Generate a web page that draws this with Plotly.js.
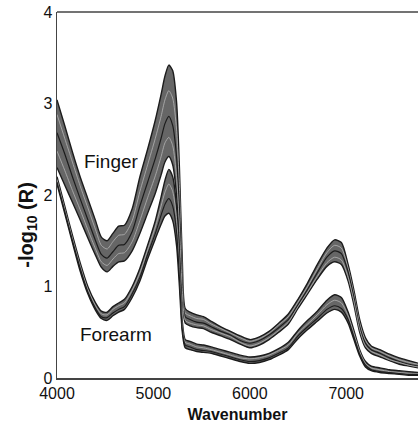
<!DOCTYPE html>
<html>
<head>
<meta charset="utf-8">
<script src="https://cdn.plot.ly/plotly-3.0.1.min.js"></script>
<style>html,body{margin:0;padding:0;background:#fff;overflow:hidden;}#chart{width:418px;height:424px;}</style>
</head>
<body>
<div id="chart"></div>
<script>
// Wavenumber grid (cm-1)
var wavenumber = [4000,4080,4160,4240,4320,4400,4460,4520,4580,4640,4700,4780,4860,4940,5020,5080,5120,5160,5200,5240,5270,5300,5330,5380,5450,5520,5600,5700,5800,5900,6000,6100,6200,6300,6400,6500,6600,6700,6800,6880,6950,7020,7080,7140,7200,7260,7350,7450,7550,7650,7750];

// Finger spectra (-log10 R), top of band to bottom of band
var finger1 = [3.04,2.76,2.47,2.20,1.96,1.72,1.54,1.50,1.58,1.66,1.67,1.85,2.20,2.50,2.82,3.10,3.30,3.42,3.36,3.02,2.30,1.28,0.76,0.72,0.69,0.67,0.62,0.56,0.51,0.46,0.42,0.45,0.51,0.60,0.70,0.86,1.04,1.24,1.42,1.51,1.48,1.24,0.96,0.64,0.44,0.35,0.31,0.26,0.22,0.19,0.16];
var finger2 = [2.88,2.62,2.36,2.10,1.86,1.62,1.45,1.41,1.49,1.56,1.57,1.72,2.04,2.33,2.62,2.86,3.04,3.14,3.06,2.72,2.08,1.15,0.71,0.68,0.65,0.64,0.59,0.54,0.49,0.44,0.40,0.43,0.49,0.58,0.67,0.83,1.00,1.19,1.37,1.45,1.42,1.20,0.92,0.60,0.41,0.33,0.29,0.24,0.20,0.17,0.15];
var finger3 = [2.68,2.45,2.20,1.96,1.73,1.50,1.35,1.31,1.38,1.45,1.46,1.60,1.88,2.14,2.40,2.62,2.78,2.86,2.76,2.42,1.84,1.04,0.67,0.64,0.61,0.60,0.56,0.51,0.47,0.41,0.38,0.41,0.47,0.55,0.64,0.80,0.97,1.15,1.32,1.39,1.36,1.16,0.88,0.56,0.38,0.31,0.27,0.22,0.18,0.15,0.13];
var finger4 = [2.48,2.27,2.05,1.84,1.62,1.41,1.27,1.23,1.30,1.36,1.37,1.49,1.72,1.97,2.21,2.42,2.57,2.63,2.54,2.20,1.66,0.96,0.63,0.60,0.58,0.57,0.53,0.49,0.45,0.39,0.35,0.38,0.44,0.52,0.61,0.78,0.94,1.11,1.26,1.32,1.29,1.10,0.84,0.53,0.35,0.29,0.25,0.20,0.17,0.14,0.12];
var finger5 = [2.30,2.11,1.92,1.73,1.53,1.34,1.21,1.16,1.22,1.27,1.28,1.39,1.58,1.80,2.02,2.22,2.36,2.42,2.33,2.00,1.50,0.88,0.60,0.57,0.55,0.54,0.50,0.46,0.42,0.37,0.33,0.36,0.42,0.50,0.59,0.76,0.92,1.08,1.22,1.27,1.24,1.06,0.80,0.50,0.33,0.27,0.23,0.19,0.15,0.13,0.11];

// Forearm spectra (-log10 R), top of band to bottom of band
var forearm1 = [2.20,1.88,1.56,1.26,1.00,0.82,0.73,0.72,0.78,0.82,0.86,1.00,1.20,1.45,1.72,1.98,2.16,2.28,2.20,1.88,1.30,0.62,0.42,0.40,0.37,0.36,0.34,0.31,0.28,0.25,0.23,0.24,0.27,0.32,0.39,0.52,0.63,0.73,0.85,0.91,0.88,0.72,0.52,0.31,0.18,0.13,0.11,0.09,0.08,0.07,0.06];
var forearm2 = [2.17,1.85,1.53,1.23,0.97,0.79,0.70,0.69,0.75,0.79,0.82,0.96,1.15,1.40,1.65,1.88,2.03,2.12,2.04,1.74,1.20,0.57,0.39,0.37,0.34,0.33,0.31,0.28,0.25,0.22,0.21,0.22,0.25,0.30,0.36,0.49,0.59,0.69,0.80,0.85,0.82,0.68,0.49,0.29,0.16,0.11,0.09,0.07,0.06,0.05,0.05];
var forearm3 = [2.14,1.82,1.50,1.20,0.94,0.76,0.67,0.66,0.71,0.75,0.78,0.92,1.10,1.35,1.58,1.78,1.90,1.96,1.88,1.60,1.10,0.53,0.36,0.34,0.31,0.30,0.29,0.26,0.23,0.20,0.18,0.19,0.22,0.27,0.33,0.46,0.56,0.65,0.75,0.79,0.76,0.64,0.45,0.26,0.14,0.09,0.07,0.06,0.05,0.04,0.04];
var forearm4 = [2.12,1.80,1.48,1.17,0.92,0.74,0.65,0.63,0.68,0.72,0.75,0.88,1.06,1.30,1.52,1.68,1.77,1.80,1.72,1.45,1.00,0.50,0.33,0.31,0.29,0.28,0.27,0.24,0.21,0.18,0.16,0.17,0.20,0.25,0.31,0.43,0.53,0.62,0.71,0.75,0.72,0.60,0.42,0.24,0.12,0.08,0.06,0.05,0.04,0.03,0.03];

var xTicks = [4000,5000,6000,7000];
var yTicks = [0,1,2,3,4];

var FONT = 'Liberation Sans, Arial, Helvetica, sans-serif';
var DARK = '#1c1c1c';
var LIGHT = '#b5b5b5';
var BAND = 'rgba(75,75,75,0.85)';

function line(y, color, width, fill) {
  var t = {x: wavenumber, y: y, type: 'scatter', mode: 'lines',
    line: {color: color, width: width, shape: 'spline', smoothing: 0.7},
    hoverinfo: 'skip', showlegend: false};
  if (fill) { t.fill = 'tonexty'; t.fillcolor = BAND; }
  return t;
}

var data = [
  line(finger5, DARK, 1.4),
  line(finger1, DARK, 1.4, true),
  line(finger2, LIGHT, 0.8),
  line(finger3, DARK, 1.2),
  line(finger4, LIGHT, 0.8),
  line(forearm4, DARK, 1.4),
  line(forearm1, DARK, 1.4, true),
  line(forearm2, LIGHT, 0.8),
  line(forearm3, DARK, 1.1)
];

var layout = {
  width: 418, height: 424,
  margin: {l: 57, r: 0, t: 12, b: 46},
  paper_bgcolor: '#fff', plot_bgcolor: '#fff',
  font: {family: FONT, color: '#111', size: 16},
  showlegend: false,
  xaxis: {
    range: [4000, 7745], tickvals: xTicks, ticks: '', showgrid: false, zeroline: false,
    showline: true, linecolor: '#444', linewidth: 1.5,
    tickfont: {family: FONT, size: 16, color: '#111'},
    title: {text: 'Wavenumber', font: {family: FONT, size: 16, weight: 'bold', color: '#111'}, standoff: 8}
  },
  yaxis: {
    range: [0, 4], tickvals: yTicks, ticks: '', showgrid: false, zeroline: false,
    showline: true, linecolor: '#444', linewidth: 1.5,
    tickfont: {family: FONT, size: 16, color: '#111'}
  },
  shapes: [
    {type: 'line', xref: 'paper', yref: 'paper', x0: 0, x1: 1, y0: 1, y1: 1, line: {color: '#444', width: 1.5}}
  ],
  annotations: [
    {text: '-log<sub>10</sub> (R)', xref: 'paper', yref: 'paper', x: -0.082, y: 0.42,
     xanchor: 'center', yanchor: 'middle', textangle: -90, showarrow: false,
     font: {family: FONT, size: 20, weight: 'bold', color: '#111'}},
    {text: 'Finger', xref: 'x', yref: 'y', x: 4570, y: 2.37, showarrow: false,
     font: {family: FONT, size: 19, color: '#111'}},
    {text: 'Forearm', xref: 'x', yref: 'y', x: 4611, y: 0.48, showarrow: false,
     font: {family: FONT, size: 19, color: '#111'}}
  ]
};

Plotly.newPlot('chart', data, layout, {staticPlot: true, displayModeBar: false});
</script>
</body>
</html>
